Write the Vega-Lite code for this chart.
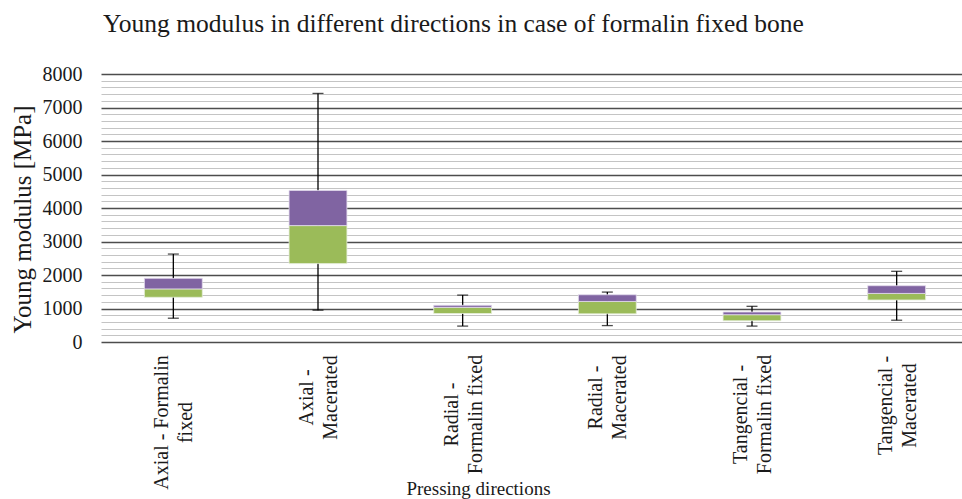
{
  "$schema": "https://vega.github.io/schema/vega-lite/v6.json",
  "autosize": {"type": "none"},
  "padding": {"left": 101, "top": 74, "right": 0, "bottom": 157},
  "width": 861,
  "height": 268,
  "background": "#ffffff",
  "title": {
    "text": "Young modulus in different directions in case of formalin fixed bone",
    "anchor": "start",
    "frame": "group",
    "font": "Liberation Serif",
    "fontSize": 25.5,
    "fontWeight": "normal",
    "color": "#1a1a1a",
    "baseline": "alphabetic",
    "offset": 7,
    "dx": 2
  },
  "config": {
    "view": {"stroke": null},
    "axis": {"labelFont": "Liberation Serif", "titleFont": "Liberation Serif", "labelColor": "#1a1a1a", "titleColor": "#1a1a1a", "titleFontWeight": "normal"},
    "axisY": {
      "format": "d",
      "labelFontSize": 20,
      "labelPadding": 19,
      "ticks": false,
      "domain": false,
      "grid": true,
      "titleFontSize": 25,
      "titleAngle": -90,
      "titleX": -79,
      "titleY": 145,
      "titleAlign": "center",
      "titleBaseline": "middle"
    }
  },
  "data": {
    "values": [
      {"direction": "Axial - Formalin fixed", "min": 710, "q1": 1335, "median": 1585, "q3": 1900, "max": 2625},
      {"direction": "Axial - Macerated", "min": 950, "q1": 2340, "median": 3475, "q3": 4525, "max": 7420},
      {"direction": "Radial - Formalin fixed", "min": 475, "q1": 850, "median": 1035, "q3": 1095, "max": 1400},
      {"direction": "Radial - Macerated", "min": 490, "q1": 840, "median": 1210, "q3": 1410, "max": 1490},
      {"direction": "Tangencial - Formalin fixed", "min": 475, "q1": 635, "median": 815, "q3": 895, "max": 1065},
      {"direction": "Tangencial - Macerated", "min": 650, "q1": 1255, "median": 1450, "q3": 1680, "max": 2110}
    ]
  },
  "encoding": {
    "x": {
      "field": "direction",
      "type": "nominal",
      "sort": null,
      "scale": {"range": [0, 868], "paddingInner": 0, "paddingOuter": 0},
      "axis": {
        "title": "Pressing directions",
        "titleFontSize": 19,
        "titleX": 377,
        "titleY": 146,
        "titleAlign": "center",
        "titleBaseline": "middle",
        "labelAngle": -90,
        "labelAlign": "center",
        "labelBaseline": "middle",
        "labelFontSize": 20,
        "labelLineHeight": 24,
        "labelOffset": -11,
        "labelPadding": {
          "condition": [
            {"test": "datum.value == 'Axial - Formalin fixed'", "value": 80},
            {"test": "datum.value == 'Axial - Macerated' || datum.value == 'Radial - Macerated'", "value": 55},
            {"test": "datum.value == 'Tangencial - Macerated'", "value": 63}
          ],
          "value": 72
        },
        "labelExpr": "datum.label == 'Axial - Formalin fixed' ? ['Axial - Formalin', 'fixed'] : split(replace(datum.label, ' - ', ' -|'), '|')",
        "ticks": false,
        "domain": false,
        "grid": false
      }
    }
  },
  "layer": [
    {
      "mark": {"type": "rule", "color": "#000000", "strokeWidth": 1.3},
      "encoding": {
        "y": {
          "field": "min",
          "type": "quantitative",
          "scale": {"domain": [0, 8000], "nice": false},
          "axis": {
            "values": [0,200,400,600,800,1000,1200,1400,1600,1800,2000,2200,2400,2600,2800,3000,3200,3400,3600,3800,4000,4200,4400,4600,4800,5000,5200,5400,5600,5800,6000,6200,6400,6600,6800,7000,7200,7400,7600,7800,8000],
            "labelExpr": "datum.value % 1000 === 0 ? datum.label : ''",
            "gridColor": {"condition": {"test": "datum.value % 1000 === 0", "value": "#4d4d4d"}, "value": "#c4c4c4"},
            "gridWidth": {"condition": {"test": "datum.value % 1000 === 0", "value": 1.5}, "value": 1.2},
            "title": "Young modulus [MPa]"
          }
        },
        "y2": {"field": "max"}
      }
    },
    {
      "mark": {"type": "tick", "color": "#000000", "thickness": 1.3, "size": 11},
      "encoding": {"y": {"field": "min", "type": "quantitative",
          "axis": {
            "values": [0,200,400,600,800,1000,1200,1400,1600,1800,2000,2200,2400,2600,2800,3000,3200,3400,3600,3800,4000,4200,4400,4600,4800,5000,5200,5400,5600,5800,6000,6200,6400,6600,6800,7000,7200,7400,7600,7800,8000],
            "labelExpr": "datum.value % 1000 === 0 ? datum.label : ''",
            "gridColor": {"condition": {"test": "datum.value % 1000 === 0", "value": "#4d4d4d"}, "value": "#c4c4c4"},
            "gridWidth": {"condition": {"test": "datum.value % 1000 === 0", "value": 1.5}, "value": 1.2},
            "title": "Young modulus [MPa]"
          }}}
    },
    {
      "mark": {"type": "tick", "color": "#000000", "thickness": 1.3, "size": 11},
      "encoding": {"y": {"field": "max", "type": "quantitative",
          "axis": {
            "values": [0,200,400,600,800,1000,1200,1400,1600,1800,2000,2200,2400,2600,2800,3000,3200,3400,3600,3800,4000,4200,4400,4600,4800,5000,5200,5400,5600,5800,6000,6200,6400,6600,6800,7000,7200,7400,7600,7800,8000],
            "labelExpr": "datum.value % 1000 === 0 ? datum.label : ''",
            "gridColor": {"condition": {"test": "datum.value % 1000 === 0", "value": "#4d4d4d"}, "value": "#c4c4c4"},
            "gridWidth": {"condition": {"test": "datum.value % 1000 === 0", "value": 1.5}, "value": 1.2},
            "title": "Young modulus [MPa]"
          }}}
    },
    {
      "mark": {"type": "bar", "color": "#9bbb59", "width": {"band": 0.4}, "stroke": "#e6eedb", "strokeWidth": 0.8},
      "encoding": {"y": {"field": "q1", "type": "quantitative",
          "axis": {
            "values": [0,200,400,600,800,1000,1200,1400,1600,1800,2000,2200,2400,2600,2800,3000,3200,3400,3600,3800,4000,4200,4400,4600,4800,5000,5200,5400,5600,5800,6000,6200,6400,6600,6800,7000,7200,7400,7600,7800,8000],
            "labelExpr": "datum.value % 1000 === 0 ? datum.label : ''",
            "gridColor": {"condition": {"test": "datum.value % 1000 === 0", "value": "#4d4d4d"}, "value": "#c4c4c4"},
            "gridWidth": {"condition": {"test": "datum.value % 1000 === 0", "value": 1.5}, "value": 1.2},
            "title": "Young modulus [MPa]"
          }}, "y2": {"field": "median"}}
    },
    {
      "mark": {"type": "bar", "color": "#8064a2", "width": {"band": 0.4}, "stroke": "#e3dcec", "strokeWidth": 0.8},
      "encoding": {"y": {"field": "median", "type": "quantitative",
          "axis": {
            "values": [0,200,400,600,800,1000,1200,1400,1600,1800,2000,2200,2400,2600,2800,3000,3200,3400,3600,3800,4000,4200,4400,4600,4800,5000,5200,5400,5600,5800,6000,6200,6400,6600,6800,7000,7200,7400,7600,7800,8000],
            "labelExpr": "datum.value % 1000 === 0 ? datum.label : ''",
            "gridColor": {"condition": {"test": "datum.value % 1000 === 0", "value": "#4d4d4d"}, "value": "#c4c4c4"},
            "gridWidth": {"condition": {"test": "datum.value % 1000 === 0", "value": 1.5}, "value": 1.2},
            "title": "Young modulus [MPa]"
          }}, "y2": {"field": "q3"}}
    }
  ]
}
